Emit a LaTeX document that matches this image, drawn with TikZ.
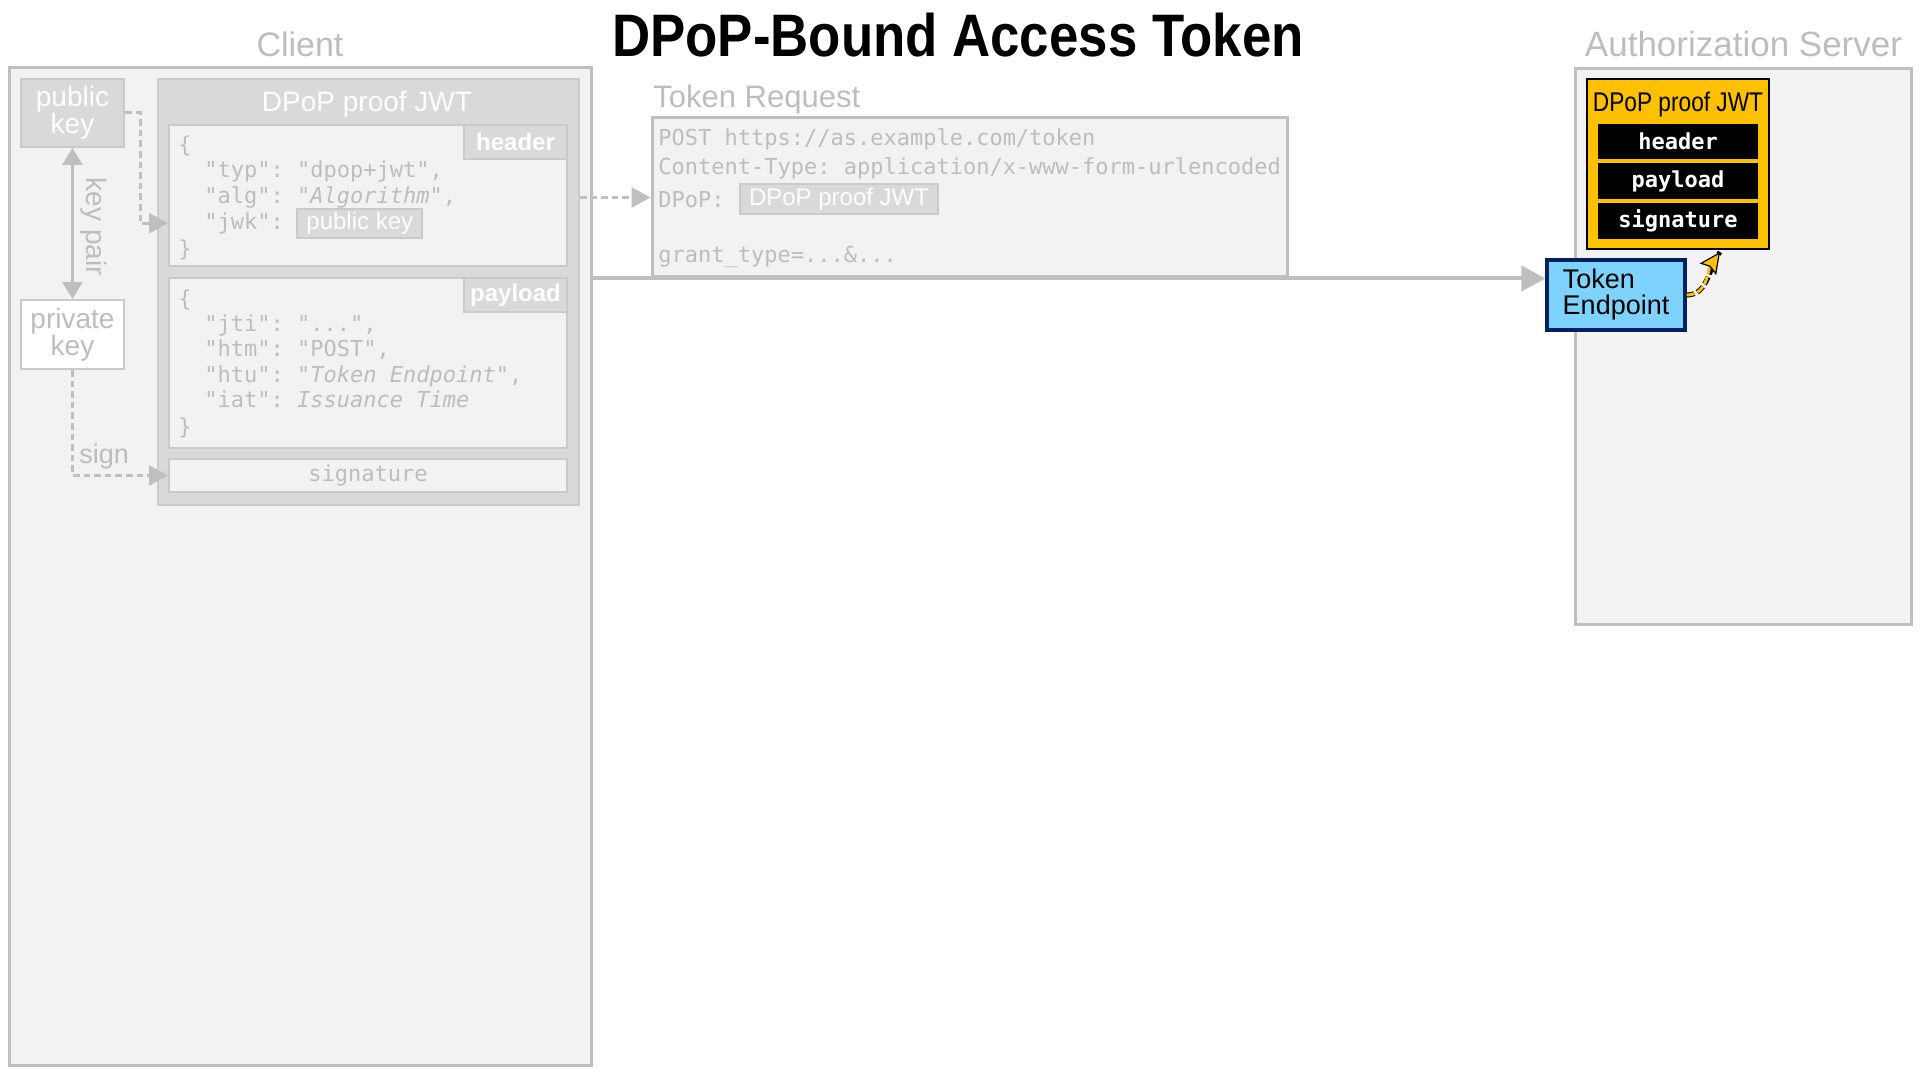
\documentclass[tikz,border=0pt]{standalone}
\usepackage{fontspec}
\setmainfont{Liberation Sans}
\setmonofont{DejaVu Sans Mono}
\newfontfamily\narrowfont{Liberation Sans}[FakeStretch=0.88]
\newfontfamily\slimfont{Liberation Sans}[FakeStretch=0.84]
\usetikzlibrary{arrows.meta,positioning}

\definecolor{paneback}{HTML}{F2F2F2}
\definecolor{paneline}{HTML}{BFBFBF}
\definecolor{jwtfill}{HTML}{D9D9D9}
\definecolor{jwtline}{HTML}{CACACA}
\definecolor{graytext}{HTML}{BDBDBD}
\definecolor{epblue}{HTML}{7DD3FD}
\definecolor{epnavy}{HTML}{002060}
\definecolor{amber}{HTML}{FFC000}
\newcommand\cdfont{\ttfamily\fontsize{11}{13}\selectfont}

\begin{document}
\begin{tikzpicture}[x=0.5pt,y=-0.5pt,
  pane/.style={draw=paneline,fill=paneback,line width=1.5pt,inner sep=0pt},
  jwtbox/.style={draw=jwtline,fill=jwtfill,line width=1pt,inner sep=0pt},
  part/.style={draw=jwtline,fill=paneback,line width=1pt,inner sep=0pt},
  tab/.style={jwtbox,text=white,font=\fontsize{12}{12}\selectfont\bfseries,minimum width=51.5pt,minimum height=17pt},
  code/.style={anchor=mid west,inner sep=0pt,text=graytext,font=\cdfont},
  chip/.style={jwtbox,text=white,font=\fontsize{12}{12}\selectfont,minimum height=14.5pt},
  bar/.style={fill=black,text=white,inner sep=0pt,minimum width=80pt,minimum height=17.5pt,font=\cdfont\bfseries},
  link/.style={paneline,line width=1.5pt,dash pattern=on 3.3pt off 2pt,-{Triangle[length=9.5pt,width=10pt]}},
  graylbl/.style={text=graytext,font=\fontsize{#1}{#1}\selectfont}]
\useasboundingbox (0,0) rectangle (1920,1080);

% title
\node[anchor=base,font={\narrowfont\bfseries\fontsize{30}{30}\selectfont}] (title) at (958,57) {DPoP-Bound Access Token};

% client
\node[anchor=base,graylbl=17] (clientlbl) at (300,57) {Client};
\node[pane,minimum width=291pt,minimum height=498.5pt] (client) at (300,566.5) {};
\node[jwtbox,minimum width=51.5pt,minimum height=34pt,text=white,align=center,font=\fontsize{14}{13.5}\selectfont] (pubkey) at (72.5,113) {public\\key};
\node[draw=jwtline,fill=white,line width=1pt,inner sep=0pt,minimum width=51.5pt,minimum height=34.5pt,text=graytext,align=center,font=\fontsize{14}{13.5}\selectfont] (privkey) at (72.5,334.5) {private\\key};
\draw[paneline,line width=1.5pt,{Triangle[length=8.5pt,width=10pt]}-{Triangle[length=8.5pt,width=10pt]}] (pubkey) -- (privkey);
\node[rotate=-90,graylbl=14] (keypair) at (94,227) {key pair};

% proof built by the client
\node[jwtbox,minimum width=210.5pt,minimum height=213pt] (jwt) at (368.5,292) {};
\node[anchor=base,text=white,font=\fontsize{14}{14}\selectfont] (jwttitle) at (367,112) {DPoP proof JWT};

\node[part,minimum width=199pt,minimum height=70.5pt] (header) at (368,195.5) {};
\node[tab] (headertab) at (515.5,142) {header};
\node[code] (hdropen) at (178,147) {\{};
\node[code] (hdrtyp) at (204,172) {"typ": "dpop+jwt",};
\node[code] (hdralg) at (204,198) {"alg": "\textit{Algorithm}",};
\node[code] (hdrjwk) at (204,224) {"jwk":};
\node[chip,minimum width=62.5pt,right=6pt of hdrjwk] (jwkchip) {public key};
\node[code] (hdrclose) at (178,251) {\}};

\node[part,minimum width=199pt,minimum height=85pt] (payload) at (368,363) {};
\node[tab] (payloadtab) at (515.5,295) {payload};
\node[code] (payopen) at (178,301) {\{};
\node[code] (payjti) at (204,326) {"jti": "...",};
\node[code] (payhtm) at (204,351) {"htm": "POST",};
\node[code] (payhtu) at (204,377) {"htu": "\textit{Token Endpoint}",};
\node[code] (payiat) at (204,402) {"iat": \textit{Issuance Time}};
\node[code] (payclose) at (178,429) {\}};

\node[part,minimum width=199pt,minimum height=16.5pt,text=graytext,font=\cdfont] (sig) at (368,475.5) {signature};

\draw[link] (pubkey.east) -- ++(15,0) |- (header.west |- hdrjwk.west);
\draw[link] (privkey.south) |- (sig.west);
\node[anchor=base west,inner sep=0pt,graylbl=13.5] (signlbl) at (79,463) {sign};

% token request
\node[anchor=base west,inner sep=0pt,graylbl=15.5] (reqlbl) at (653,108) {Token Request};
\node[pane,minimum width=317.5pt,minimum height=79.5pt] (request) at (969.5,197.5) {};
\node[code] (reqpost) at (658,140) {POST https://as.example.com/token};
\node[code] (reqtype) at (658,169) {Content-Type: application/x-www-form-urlencoded};
\node[code] (reqdpop) at (658,202) {DPoP:};
\node[chip,minimum width=99pt,minimum height=15pt,right=7pt of reqdpop] (reqchip) {DPoP proof JWT};
\node[code] (reqgrant) at (658,257) {grant\_type=...\&...};
\draw[link] (jwt.east |- request.west) -- (request.west);

% authorization server
\node[anchor=base,graylbl=17.5] (authlbl) at (1743.5,57) {Authorization Server};
\node[pane,minimum width=168pt,minimum height=277.5pt] (auth) at (1743,346.5) {};
\node[draw=black,fill=amber,line width=1pt,inner sep=0pt,minimum width=91pt,minimum height=85pt] (proof) at (1678,164) {};
\node[anchor=base,font={\slimfont\fontsize{13.5}{13.5}\selectfont}] (prooftitle) at (1678,112) {DPoP proof JWT};
\node[bar] (proofhdr) at (1678,141.5) {header};
\node[bar,minimum height=18pt] (proofpay) at (1678,181) {payload};
\node[bar,minimum height=18pt] (proofsig) at (1678,221) {signature};
\node[draw=epnavy,fill=epblue,line width=1.6pt,inner sep=0pt,minimum width=69pt,minimum height=35pt,align=left,font=\fontsize{13.5}{13}\selectfont] (tokenep) at (1616,295) {Token\\Endpoint};

\draw[paneline,line width=2pt,-{Triangle[length=12pt,width=12.5pt]}] (client.east |- request.south) -- (tokenep.west |- request.south);
\draw[black,line width=2.5pt,dash pattern=on 4pt off 1.5pt] (tokenep.east) to[out=0,in=235] ([xshift=21pt,yshift=-1pt]proof.south);
\draw[amber,line width=1.5pt,dash pattern=on 4pt off 1.5pt,-{Stealth[length=10.5pt,width=10pt,inset=1.5pt,line width=0.6pt,color=black,fill=amber]}] (tokenep.east) to[out=0,in=235] ([xshift=21pt,yshift=-1pt]proof.south);
\end{tikzpicture}
\end{document}
